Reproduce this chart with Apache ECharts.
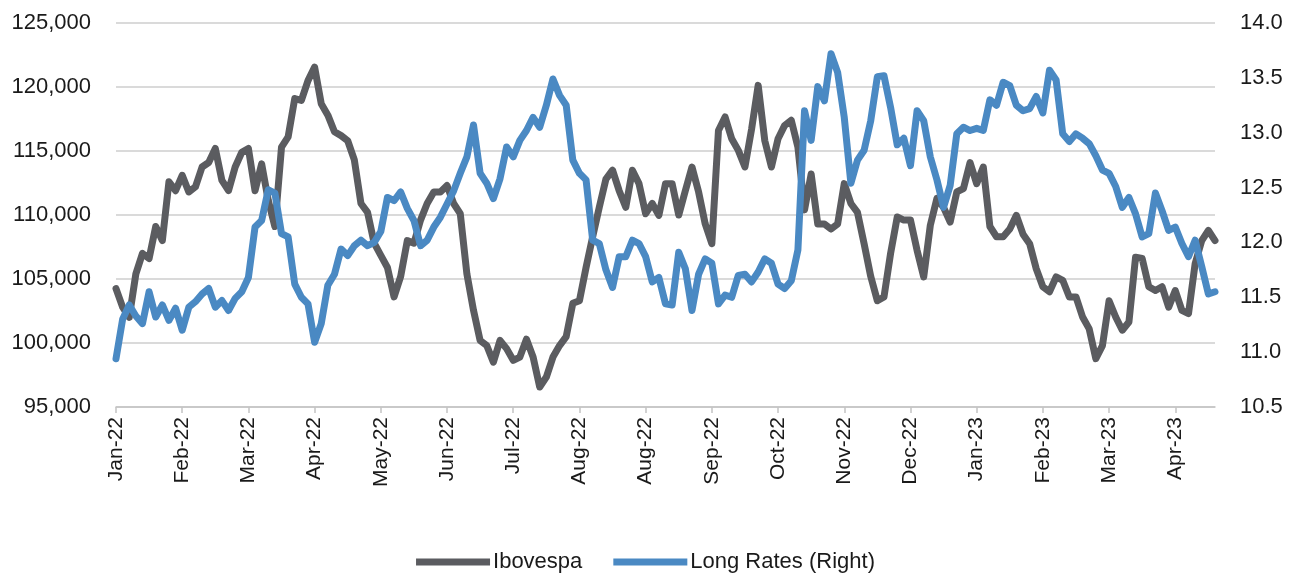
<!DOCTYPE html>
<html>
<head>
<meta charset="utf-8">
<script src="https://cdn.jsdelivr.net/npm/echarts@6/dist/echarts.min.js"></script>
<style>
    html, body { margin: 0; padding: 0; background: #fff; }
    #chart { width: 1291px; height: 575px; }
</style>
</head>
<body>
<div id="chart"></div>
<script>
    // month labels shown every 10th point, as in the source (Aug-22 appears twice)
    var tickLabels = ['Jan-22', 'Feb-22', 'Mar-22', 'Apr-22', 'May-22', 'Jun-22', 'Jul-22', 'Aug-22', 'Aug-22',
        'Sep-22', 'Oct-22', 'Nov-22', 'Dec-22', 'Jan-23', 'Feb-23', 'Mar-23', 'Apr-23'];

    // Ibovespa, thousands of points
    var ibovespa = [
        104.25, 102.8, 102.0, 105.4, 107.0, 106.6, 109.1, 108.0, 112.6, 111.9,
        113.1, 111.8, 112.2, 113.75, 114.1, 115.2, 112.7, 111.9, 113.75, 114.9,
        115.2, 111.9, 114.0, 111.15, 109.1, 115.3, 116.1, 119.1, 118.96, 120.5,
        121.56, 118.7, 117.8, 116.5, 116.2, 115.8, 114.3, 110.9, 110.2, 107.8,
        106.85, 105.9, 103.6, 105.2, 108.0, 107.8, 109.6, 110.9, 111.8, 111.8,
        112.3, 110.9, 110.1, 105.4, 102.55, 100.2, 99.8, 98.5, 100.2, 99.56,
        98.65, 98.9, 100.3, 98.9, 96.56, 97.34, 98.9, 99.8, 100.5, 103.1,
        103.3, 105.9, 108.3, 110.6, 112.8, 113.5, 111.9, 110.6, 113.5, 112.45,
        110.1, 110.9, 109.97, 112.45, 112.45, 110.0, 111.9, 113.75, 111.8, 109.3,
        107.76, 116.6, 117.66, 115.96, 115.05, 113.75, 116.7, 120.13, 115.8, 113.75,
        115.96, 117.0, 117.4, 115.3, 110.4, 113.2, 109.3, 109.3, 108.9, 109.3,
        112.45, 110.9, 110.2, 107.76, 105.2, 103.3, 103.6, 107.0, 109.84, 109.6,
        109.6, 107.24, 105.16, 109.2, 111.3, 110.6, 109.45, 111.8, 112.06, 114.1,
        112.45, 113.75, 109.1, 108.3, 108.3, 108.9, 109.97, 108.5, 107.76, 105.8,
        104.4, 104.0, 105.16, 104.9, 103.6, 103.6, 102.03, 101.1, 98.78, 99.8,
        103.3, 102.03, 101.0, 101.64, 106.7, 106.6, 104.4, 104.1, 104.4, 102.8,
        104.1, 102.55, 102.3, 106.2, 108.0, 108.8, 108.0
    ];

    // long rates, % (right axis)
    var longRates = [
        10.94, 11.30, 11.43, 11.33, 11.26, 11.55, 11.32, 11.43, 11.29, 11.40,
        11.20, 11.41, 11.46, 11.53, 11.58, 11.41, 11.47, 11.38, 11.49, 11.55,
        11.68, 12.14, 12.20, 12.48, 12.45, 12.08, 12.05, 11.62, 11.50, 11.44,
        11.09, 11.26, 11.61, 11.71, 11.94, 11.88, 11.97, 12.02, 11.97, 12.00,
        12.10, 12.41, 12.38, 12.46, 12.31, 12.20, 11.97, 12.02, 12.14, 12.23,
        12.35, 12.47, 12.63, 12.78, 13.07, 12.63, 12.54, 12.40, 12.58, 12.87,
        12.78, 12.93, 13.02, 13.14, 13.05, 13.25, 13.49, 13.34, 13.25, 12.75,
        12.63, 12.57, 12.02, 11.99, 11.75, 11.59, 11.87, 11.87, 12.02, 11.99,
        11.87, 11.64, 11.68, 11.44, 11.43, 11.91, 11.76, 11.38, 11.71, 11.85,
        11.81, 11.44, 11.52, 11.50, 11.70, 11.71, 11.64, 11.73, 11.85, 11.81,
        11.62, 11.58, 11.65, 11.93, 13.20, 12.93, 13.42, 13.29, 13.72, 13.55,
        13.14, 12.54, 12.75, 12.84, 13.11, 13.51, 13.52, 13.23, 12.89, 12.95,
        12.70, 13.20, 13.11, 12.78, 12.57, 12.32, 12.52, 12.99, 13.05, 13.02,
        13.04, 13.02, 13.30, 13.25, 13.46, 13.43, 13.25, 13.20, 13.22, 13.33,
        13.18, 13.57, 13.48, 12.99, 12.92, 12.99, 12.95, 12.90, 12.79, 12.66,
        12.63, 12.51, 12.32, 12.41, 12.26, 12.05, 12.08, 12.45, 12.29, 12.11,
        12.14, 11.99, 11.87, 12.02, 11.78, 11.53, 11.55
    ];

    var categories = ibovespa.map(function (v, i) { return String(i); });

    var FONT = "'Liberation Sans', Arial, sans-serif";

    var option = {
        animation: false,
        backgroundColor: '#ffffff',
        textStyle: { fontFamily: FONT },
        legend: {
            data: ['Ibovespa', 'Long Rates (Right)'],
            left: 'center',
            top: 546,
            icon: 'rect',
            itemWidth: 74,
            itemHeight: 7,
            itemGap: 31,
            textStyle: { fontFamily: FONT, fontSize: 22, color: '#1a1a1a', padding: [0, 0, 0, -2] }
        },
        grid: { left: 116, right: 76, top: 23, bottom: 168 },
        xAxis: {
            type: 'category',
            boundaryGap: false,
            data: categories,
            axisLine: { lineStyle: { color: '#c4c4c4', width: 1.5 } },
            axisTick: { interval: 9, length: 6, lineStyle: { color: '#c4c4c4', width: 1.5 } },
            axisLabel: {
                interval: 9,
                rotate: 90,
                margin: 10,
                fontFamily: FONT,
                fontSize: 21,
                color: '#1a1a1a',
                formatter: function (v, idx) { return tickLabels[Math.round(idx / 10)]; }
            },
            splitLine: { show: false }
        },
        yAxis: [
            {
                type: 'value',
                min: 95000,
                max: 125000,
                interval: 5000,
                axisLine: { show: false },
                axisTick: { show: false },
                axisLabel: {
                    margin: 25,
                    fontFamily: FONT,
                    fontSize: 22,
                    color: '#1a1a1a',
                    formatter: function (v) { return v.toLocaleString('en-US'); }
                },
                splitLine: { lineStyle: { color: '#dadada', width: 2 } }
            },
            {
                type: 'value',
                min: 10.5,
                max: 14,
                interval: 0.5,
                axisLine: { show: false },
                axisTick: { show: false },
                axisLabel: {
                    margin: 25,
                    fontFamily: FONT,
                    fontSize: 22,
                    color: '#1a1a1a',
                    formatter: function (v) { return v.toFixed(1); }
                },
                splitLine: { show: false }
            }
        ],
        series: [
            {
                name: 'Ibovespa',
                type: 'line',
                yAxisIndex: 0,
                data: ibovespa.map(function (v) { return v * 1000; }),
                symbol: 'none',
                color: '#5b5c60',
                lineStyle: { color: '#5b5c60', width: 7, join: 'round', cap: 'round' }
            },
            {
                name: 'Long Rates (Right)',
                type: 'line',
                yAxisIndex: 1,
                data: longRates,
                symbol: 'none',
                color: '#4a89c3',
                lineStyle: { color: '#4a89c3', width: 7, join: 'round', cap: 'round' }
            }
        ]
    };

    echarts.init(document.getElementById('chart')).setOption(option);
</script>
</body>
</html>
